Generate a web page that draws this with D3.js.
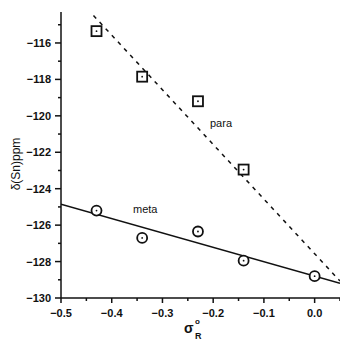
<!DOCTYPE html>
<html>
<head>
<meta charset="utf-8">
<script src="https://cdn.jsdelivr.net/npm/d3@7"></script>
<style>
body{margin:0;background:#fff;}
text{font-family:"Liberation Sans",Arial,sans-serif;fill:#111;}
</style>
</head>
<body>
<svg width="340" height="340"></svg>
<script>
// sigma_R values and shifts
const paraX=[-0.43,-0.34,-0.23,-0.14];
const paraY=[-115.35,-117.85,-119.2,-122.95];
const metaX=[-0.43,-0.34,-0.23,-0.14,0.0];
const metaY=[-125.2,-126.7,-126.35,-127.95,-128.8];
// fitted lines: [intercept, slope, xStart, xEnd]
const paraFit=[-127.57,-30.0,-0.436,0.05];
const metaFit=[-128.8,-7.9,-0.5,0.05];
const xTicks=[-0.5,-0.4,-0.3,-0.2,-0.1,0.0];
const yTicks=[-130,-128,-126,-124,-122,-120,-118,-116];

const svg=d3.select('svg');
const margin={top:12,right:0,bottom:42,left:61};
const W=340,H=340;

const x=d3.scaleLinear().domain([-0.5,0.05]).range([margin.left,W-margin.right]);
const y=d3.scaleLinear().domain([-130,-114.3]).range([H-margin.bottom,margin.top]);

svg.append('defs').append('clipPath').attr('id','clip')
  .append('rect').attr('x',margin.left).attr('y',margin.top)
  .attr('width',W-margin.left).attr('height',H-margin.bottom-margin.top);

/******axes************ */
const ax=svg.append('g').attr('stroke','#111').attr('stroke-width',1.5);
ax.append('line').attr('x1',x(-0.5)).attr('x2',W).attr('y1',y(-130)).attr('y2',y(-130));
ax.append('line').attr('x1',x(-0.5)).attr('x2',x(-0.5)).attr('y1',y(-130)).attr('y2',margin.top);

// y ticks
yTicks.forEach(v=>{
  ax.append('line').attr('x1',x(-0.5)-6).attr('x2',x(-0.5)).attr('y1',y(v)).attr('y2',y(v));
  svg.append('text').attr('x',x(-0.5)-10).attr('y',y(v)+4)
    .attr('text-anchor','end').attr('font-size',11).attr('font-weight',600)
    .text(d3.format('d')(v));
});
d3.range(-129,-114,2).forEach(v=>{
  ax.append('line').attr('x1',x(-0.5)-3).attr('x2',x(-0.5)).attr('y1',y(v)).attr('y2',y(v));
});
// x ticks
xTicks.forEach(v=>{
  ax.append('line').attr('x1',x(v)).attr('x2',x(v)).attr('y1',y(-130)).attr('y2',y(-130)+5);
  svg.append('text').attr('x',x(v)).attr('y',y(-130)+19)
    .attr('text-anchor','middle').attr('font-size',11).attr('font-weight',600)
    .text(d3.format('.1f')(v));
});
[-0.45,-0.35,-0.25,-0.15,-0.05,0.05].forEach(v=>{
  ax.append('line').attr('x1',x(v)).attr('x2',x(v)).attr('y1',y(-130)).attr('y2',y(-130)+3);
});

/******lines************ */
const fitLine=f=>d3.line().x(d=>x(d)).y(d=>y(f[0]+f[1]*d))([f[2],f[3]]);
const plot=svg.append('g').attr('clip-path','url(#clip)');
plot.append('path').attr('d',fitLine(paraFit)).attr('fill','none')
  .attr('stroke','#111').attr('stroke-width',1.5).attr('stroke-dasharray','4,5');
plot.append('path').attr('d',fitLine(metaFit)).attr('fill','none')
  .attr('stroke','#111').attr('stroke-width',1.5);

/******markers************ */
const para=paraX.map((d,i)=>[d,paraY[i]]);
const meta=metaX.map((d,i)=>[d,metaY[i]]);
svg.selectAll('rect.para').data(para).enter().append('rect')
  .attr('class','para')
  .attr('x',d=>x(d[0])-5).attr('y',d=>y(d[1])-5).attr('width',10).attr('height',10)
  .attr('fill','#fff').attr('stroke','#111').attr('stroke-width',1.8);
svg.selectAll('circle.meta').data(meta).enter().append('circle')
  .attr('class','meta')
  .attr('cx',d=>x(d[0])).attr('cy',d=>y(d[1])).attr('r',5)
  .attr('fill','#fff').attr('stroke','#111').attr('stroke-width',1.8);
svg.selectAll('circle.dot').data(para.concat(meta)).enter().append('circle')
  .attr('class','dot')
  .attr('cx',d=>x(d[0])).attr('cy',d=>y(d[1])).attr('r',0.9).attr('fill','#111');

/******labels************ */
svg.append('text').attr('x',210).attr('y',127).attr('font-size',11).text('para');
svg.append('text').attr('x',133).attr('y',213).attr('font-size',11).text('meta');

svg.append('text').attr('transform','translate(20,164) rotate(-90)')
  .attr('text-anchor','middle').attr('font-size',12).text('δ(Sn)ppm');

// x label: sigma with degree sign above and subscript R
svg.append('text').attr('x',184).attr('y',333).attr('font-size',14).attr('font-weight',600).text('σ');
svg.append('text').attr('x',195).attr('y',324).attr('font-size',8).attr('font-weight',600).text('o');
svg.append('text').attr('x',195).attr('y',339).attr('font-size',9).attr('font-weight',600).text('R');
</script>
</body>
</html>
